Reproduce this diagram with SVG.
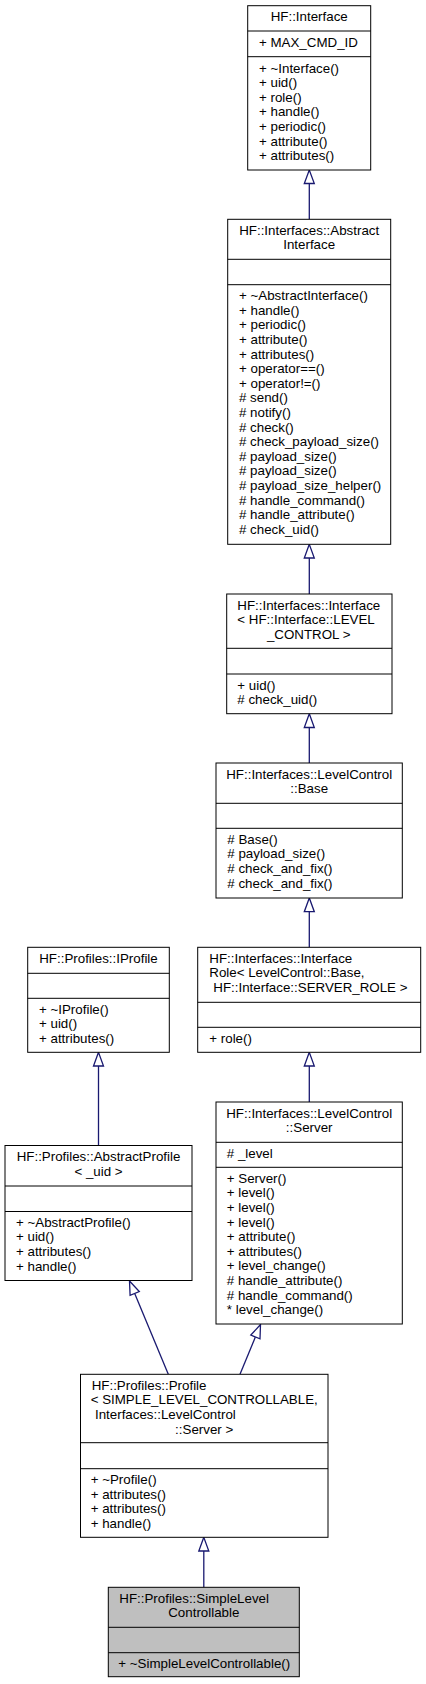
<svg xmlns="http://www.w3.org/2000/svg" width="426" height="1684" viewBox="0 0 426 1684">
<style>
.box{fill:#ffffff;stroke:#000000;stroke-width:1}
.sel{fill:#bfbfbf;stroke:#000000;stroke-width:1}
.div{stroke:#000000;stroke-width:1}
text{font-family:"Liberation Sans",Arial,Helvetica,sans-serif;font-size:13.33px;fill:#000000}
.c{text-anchor:middle}
.edge{stroke:#191970;stroke-width:1.3;fill:none}
.head{fill:#ffffff;stroke:#191970;stroke-width:1.3}
</style>
<rect width="426" height="1684" fill="#ffffff"/>
<g id="connectors">
<line class="edge" x1="309.3" y1="219.3" x2="309.3" y2="183.5"/>
<polygon class="head" points="309.3,170 304.3,183.5 314.3,183.5"/>
<line class="edge" x1="309.3" y1="594" x2="309.3" y2="558"/>
<polygon class="head" points="309.3,544.3 304.3,558 314.3,558"/>
<line class="edge" x1="309.3" y1="763" x2="309.3" y2="727.5"/>
<polygon class="head" points="309.3,713.7 304.3,727.5 314.3,727.5"/>
<line class="edge" x1="309.3" y1="947.3" x2="309.3" y2="911.7"/>
<polygon class="head" points="309.3,898 304.3,911.7 314.3,911.7"/>
<line class="edge" x1="309.3" y1="1102" x2="309.3" y2="1066"/>
<polygon class="head" points="309.3,1052.3 304.3,1066 314.3,1066"/>
<line class="edge" x1="98.5" y1="1145.5" x2="98.5" y2="1066"/>
<polygon class="head" points="98.5,1052.3 93.5,1066 103.5,1066"/>
<line class="edge" x1="168.3" y1="1374.3" x2="134.7" y2="1293.5"/>
<polygon class="head" points="129.5,1281 139.3,1291.6 130.1,1295.4"/>
<line class="edge" x1="240" y1="1374.3" x2="255.4" y2="1337"/>
<polygon class="head" points="260.5,1324.5 260,1338.9 250.8,1335.1"/>
<line class="edge" x1="203.8" y1="1587.3" x2="203.8" y2="1551"/>
<polygon class="head" points="203.8,1537.3 198.8,1551 208.8,1551"/>
</g>
<g id="node_interface">
<rect class="box" x="247.7" y="5.7" width="123" height="164.3"/>
<line class="div" x1="247.7" y1="31" x2="370.7" y2="31"/>
<line class="div" x1="247.7" y1="56.7" x2="370.7" y2="56.7"/>
<text class="c" x="309.2" y="21.3">HF::Interface</text>
<text x="259" y="46.5">+ MAX_CMD_ID</text>
<text x="259" y="72.5">+ ~Interface()</text>
<text x="259" y="87.1">+ uid()</text>
<text x="259" y="101.7">+ role()</text>
<text x="259" y="116.3">+ handle()</text>
<text x="259" y="130.9">+ periodic()</text>
<text x="259" y="145.5">+ attribute()</text>
<text x="259" y="160.1">+ attributes()</text>
</g>
<g id="node_abstract_interface">
<rect class="box" x="227.7" y="219.3" width="163" height="325"/>
<line class="div" x1="227.7" y1="259.3" x2="390.7" y2="259.3"/>
<line class="div" x1="227.7" y1="284.7" x2="390.7" y2="284.7"/>
<text class="c" x="309.2" y="234.8">HF::Interfaces::Abstract</text>
<text class="c" x="309.2" y="249.4">Interface</text>
<text x="239" y="300.2">+ ~AbstractInterface()</text>
<text x="239" y="314.8">+ handle()</text>
<text x="239" y="329.4">+ periodic()</text>
<text x="239" y="344">+ attribute()</text>
<text x="239" y="358.6">+ attributes()</text>
<text x="239" y="373.2">+ operator==()</text>
<text x="239" y="387.8">+ operator!=()</text>
<text x="239" y="402.4"># send()</text>
<text x="239" y="417"># notify()</text>
<text x="239" y="431.6"># check()</text>
<text x="239" y="446.2"># check_payload_size()</text>
<text x="239" y="460.8"># payload_size()</text>
<text x="239" y="475.4"># payload_size()</text>
<text x="239" y="490"># payload_size_helper()</text>
<text x="239" y="504.6"># handle_command()</text>
<text x="239" y="519.2"># handle_attribute()</text>
<text x="239" y="533.8"># check_uid()</text>
</g>
<g id="node_interface_level">
<rect class="box" x="226.7" y="594" width="165.3" height="119.7"/>
<line class="div" x1="226.7" y1="648.3" x2="392" y2="648.3"/>
<line class="div" x1="226.7" y1="674" x2="392" y2="674"/>
<text x="237.3" y="609.5">HF::Interfaces::Interface</text>
<text x="237.3" y="624.1">&lt; HF::Interface::LEVEL</text>
<text class="c" x="308.7" y="638.7">_CONTROL &gt;</text>
<text x="237.3" y="689.5">+ uid()</text>
<text x="237.3" y="704.1"># check_uid()</text>
</g>
<g id="node_levelcontrol_base">
<rect class="box" x="216" y="763" width="186.3" height="135"/>
<line class="div" x1="216" y1="803.3" x2="402.3" y2="803.3"/>
<line class="div" x1="216" y1="828.3" x2="402.3" y2="828.3"/>
<text class="c" x="309.2" y="778.5">HF::Interfaces::LevelControl</text>
<text class="c" x="309.2" y="793.1">::Base</text>
<text x="227.3" y="843.8"># Base()</text>
<text x="227.3" y="858.4"># payload_size()</text>
<text x="227.3" y="873"># check_and_fix()</text>
<text x="227.3" y="887.6"># check_and_fix()</text>
</g>
<g id="node_interface_role">
<rect class="box" x="197.7" y="947.3" width="223" height="105"/>
<line class="div" x1="197.7" y1="1002.3" x2="420.7" y2="1002.3"/>
<line class="div" x1="197.7" y1="1027.3" x2="420.7" y2="1027.3"/>
<text x="209.3" y="962.8">HF::Interfaces::Interface</text>
<text x="209.3" y="977.4">Role&lt; LevelControl::Base,</text>
<text x="213.3" y="992">HF::Interface::SERVER_ROLE &gt;</text>
<text x="209.3" y="1042.8">+ role()</text>
</g>
<g id="node_iprofile">
<rect class="box" x="27.7" y="947.3" width="141.6" height="105"/>
<line class="div" x1="27.7" y1="973.3" x2="169.3" y2="973.3"/>
<line class="div" x1="27.7" y1="998.3" x2="169.3" y2="998.3"/>
<text class="c" x="98.5" y="962.8">HF::Profiles::IProfile</text>
<text x="39" y="1013.8">+ ~IProfile()</text>
<text x="39" y="1028.4">+ uid()</text>
<text x="39" y="1043">+ attributes()</text>
</g>
<g id="node_levelcontrol_server">
<rect class="box" x="216" y="1102" width="186.3" height="222"/>
<line class="div" x1="216" y1="1142.3" x2="402.3" y2="1142.3"/>
<line class="div" x1="216" y1="1167.3" x2="402.3" y2="1167.3"/>
<text class="c" x="309.2" y="1117.5">HF::Interfaces::LevelControl</text>
<text class="c" x="309.2" y="1132.1">::Server</text>
<text x="226.8" y="1157.8"># _level</text>
<text x="226.8" y="1182.8">+ Server()</text>
<text x="226.8" y="1197.4">+ level()</text>
<text x="226.8" y="1212">+ level()</text>
<text x="226.8" y="1226.6">+ level()</text>
<text x="226.8" y="1241.2">+ attribute()</text>
<text x="226.8" y="1255.8">+ attributes()</text>
<text x="226.8" y="1270.4">+ level_change()</text>
<text x="226.8" y="1285"># handle_attribute()</text>
<text x="226.8" y="1299.6"># handle_command()</text>
<text x="226.8" y="1314.2">* level_change()</text>
</g>
<g id="node_abstract_profile">
<rect class="box" x="5" y="1145.5" width="187" height="135"/>
<line class="div" x1="5" y1="1186" x2="192" y2="1186"/>
<line class="div" x1="5" y1="1211.5" x2="192" y2="1211.5"/>
<text class="c" x="98.5" y="1161">HF::Profiles::AbstractProfile</text>
<text class="c" x="98.5" y="1175.6">&lt; _uid &gt;</text>
<text x="16" y="1226.7">+ ~AbstractProfile()</text>
<text x="16" y="1241.3">+ uid()</text>
<text x="16" y="1255.9">+ attributes()</text>
<text x="16" y="1270.5">+ handle()</text>
</g>
<g id="node_profile">
<rect class="box" x="80.5" y="1374.3" width="247.5" height="163"/>
<line class="div" x1="80.5" y1="1442.7" x2="328" y2="1442.7"/>
<line class="div" x1="80.5" y1="1468.7" x2="328" y2="1468.7"/>
<text x="91.7" y="1389.8">HF::Profiles::Profile</text>
<text x="90.7" y="1404.4">&lt; SIMPLE_LEVEL_CONTROLLABLE,</text>
<text x="95" y="1419">Interfaces::LevelControl</text>
<text class="c" x="204.2" y="1433.6">::Server &gt;</text>
<text x="90.7" y="1484">+ ~Profile()</text>
<text x="90.7" y="1498.6">+ attributes()</text>
<text x="90.7" y="1513.2">+ attributes()</text>
<text x="90.7" y="1527.8">+ handle()</text>
</g>
<g id="node_simple_level_controllable">
<rect class="sel" x="108.3" y="1587.3" width="191" height="89.4"/>
<line class="div" x1="108.3" y1="1627.3" x2="299.3" y2="1627.3"/>
<line class="div" x1="108.3" y1="1652.7" x2="299.3" y2="1652.7"/>
<text x="119.3" y="1602.8">HF::Profiles::SimpleLevel</text>
<text class="c" x="203.8" y="1617.4">Controllable</text>
<text x="118.3" y="1668">+ ~SimpleLevelControllable()</text>
</g>
</svg>
